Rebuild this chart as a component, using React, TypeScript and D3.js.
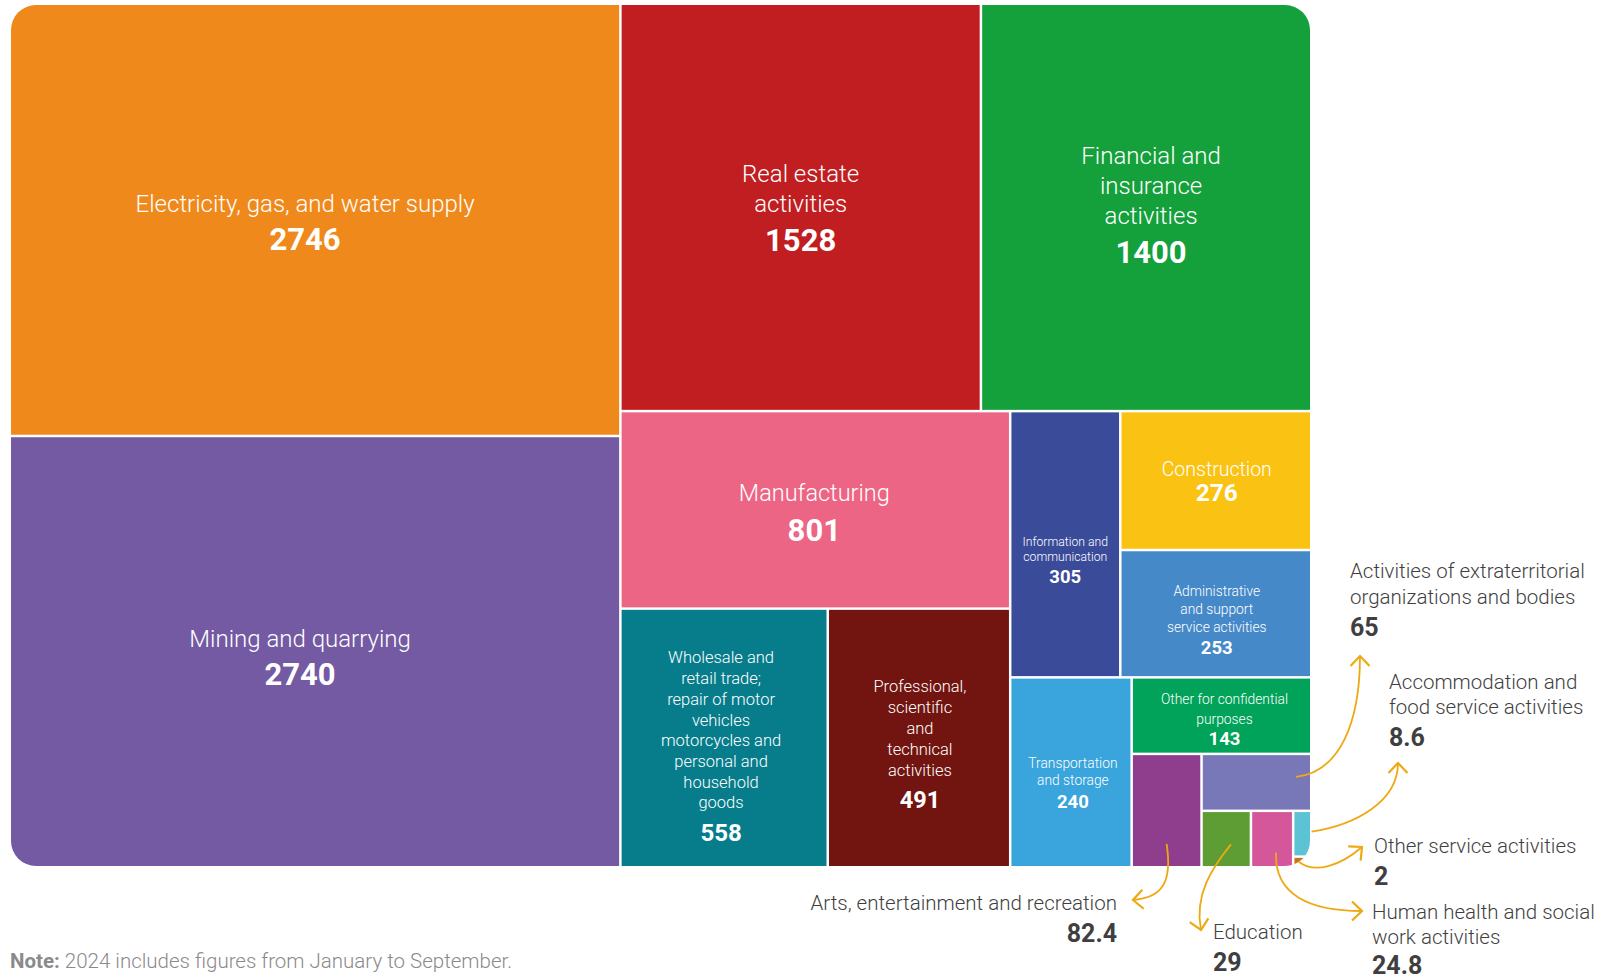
import React from "react";
import * as d3 from "d3";

// ---------- DATA ----------
const categories = [
  "Electricity, gas, and water supply",
  "Mining and quarrying",
  "Real estate activities",
  "Financial and insurance activities",
  "Manufacturing",
  "Wholesale and retail trade; repair of motor vehicles motorcycles and personal and household goods",
  "Professional, scientific and technical activities",
  "Information and communication",
  "Construction",
  "Administrative and support service activities",
  "Transportation and storage",
  "Other for confidential purposes",
  "Arts, entertainment and recreation",
  "Activities of extraterritorial organizations and bodies",
  "Education",
  "Human health and social work activities",
  "Accommodation and food service activities",
  "Other service activities",
];

const values = [2746, 2740, 1528, 1400, 801, 558, 491, 305, 276, 253, 240, 143, 82.4, 65, 29, 24.8, 8.6, 2];

const valueLabels = ["2746", "2740", "1528", "1400", "801", "558", "491", "305", "276", "253", "240", "143", "82.4", "65", "29", "24.8", "8.6", "2"];

const colors = [
  "#F0891B", "#7459A3", "#C01E21", "#14A03B", "#EC6584", "#077D8C",
  "#721510", "#3A4B9A", "#FAC313", "#4689C9", "#3AA4DC", "#00A359",
  "#8E3E8D", "#7878B8", "#5E9D33", "#D4579C", "#5BC3D4", "#C6761A",
];

// label lines (display text split into rows)
const labelLines: string[][] = [
  ["Electricity, gas, and water supply"],
  ["Mining and quarrying"],
  ["Real estate", "activities"],
  ["Financial and", "insurance", "activities"],
  ["Manufacturing"],
  ["Wholesale and", "retail trade;", "repair of motor", "vehicles", "motorcycles and", "personal and", "household", "goods"],
  ["Professional,", "scientific", "and", "technical", "activities"],
  ["Information and", "communication"],
  ["Construction"],
  ["Administrative", "and support", "service activities"],
  ["Transportation", "and storage"],
  ["Other for confidential", "purposes"],
  ["Arts, entertainment and recreation"],
  ["Activities of extraterritorial", "organizations and bodies"],
  ["Education"],
  ["Human health and social", "work activities"],
  ["Accommodation and", "food service activities"],
  ["Other service activities"],
];

const noteBold = "Note:";
const noteText = " 2024 includes figures from January to September.";

// ---------- STYLE / LAYOUT ----------
const W = 1608;
const H = 979;
const TM = { x: 11, y: 5, w: 1299, h: 861, r: 25 };
const FONT = "Roboto, 'Noto Sans', 'DejaVu Sans', sans-serif";
const ARROW = "#EEA912";
const DARK = "#3F3F42";

// inside-cell label styles: [labelSize, lineHeight, valueSize, valueGap, dy, dx]
const inside: Record<number, [number, number, number, number, number, number]> = {
  0: [24, 30, 31, 36, 2, -10],
  1: [24, 30, 31, 35, 5, -15],
  2: [24, 30, 31, 37, 0, 0],
  3: [24, 30, 31, 36, -3, 5],
  4: [23.5, 30, 31, 37, 2, -1],
  5: [16.5, 20.7, 24, 30, 7.5, -3],
  6: [16.5, 20.8, 23.5, 30, 5.5, 1],
  7: [12.2, 15.4, 18.5, 20, 15, 0],
  8: [19.5, 20, 24.5, 23.5, 0.5, 1],
  9: [13.8, 18, 18.5, 21.5, 6, 1],
  10: [13.8, 17.5, 18.5, 22, 10, 2],
  11: [13.8, 19.5, 18.5, 20, 3.5, 3],
};

// outside labels: anchor point, text anchor, line height, value gap
const outside: Record<number, { x: number; y: number; anchor: string; lh: number; gap: number }> = {
  12: { x: 1117, y: 903, anchor: "end", lh: 25, gap: 30 },
  13: { x: 1350, y: 571, anchor: "start", lh: 26, gap: 30 },
  14: { x: 1213, y: 932, anchor: "start", lh: 25, gap: 30 },
  15: { x: 1372, y: 912, anchor: "start", lh: 24.5, gap: 29 },
  16: { x: 1389, y: 682, anchor: "start", lh: 25, gap: 30 },
  17: { x: 1374, y: 846, anchor: "start", lh: 25, gap: 30 },
};

// arrows: start as fraction of the cell, controls and end in page space
const arrows: Record<number, { fx: number; fy: number; c1: [number, number]; c2: [number, number]; e: [number, number] }> = {
  13: { fx: 0.87, fy: 0.4, c1: [1340, 772], c2: [1360, 722], e: [1360, 656] },
  16: { fx: 1.1, fy: 0.45, c1: [1355, 825], c2: [1398, 802], e: [1398, 763] },
  17: { fx: 0.3, fy: 0.5, c1: [1315, 874], c2: [1340, 866], e: [1362, 847] },
  15: { fx: 0.6, fy: 0.75, c1: [1274, 895], c2: [1310, 911], e: [1362, 911] },
  14: { fx: 0.6, fy: 0.6, c1: [1212, 868], c2: [1194, 895], e: [1201, 930] },
  12: { fx: 0.5, fy: 0.8, c1: [1173, 885], c2: [1160, 898], e: [1133, 900] },
};

type Datum = { idx: number; name: string; value: number };

export default function App() {
  const data: Datum[] = categories.map((name, idx) => ({ idx, name, value: values[idx] }));
  const root = d3
    .hierarchy<any>({ children: data })
    .sum((d: any) => d.value ?? 0);
  d3.treemap<any>().tile(d3.treemapBinary).size([TM.w, TM.h]).paddingInner(2.5)(root);
  const leaves = root.leaves() as d3.HierarchyRectangularNode<any>[];
  const cellOf: Record<number, { x0: number; y0: number; x1: number; y1: number }> = {};
  leaves.forEach((l) => {
    cellOf[l.data.idx] = { x0: l.x0 + TM.x, y0: l.y0 + TM.y, x1: l.x1 + TM.x, y1: l.y1 + TM.y };
  });

  return (
    <svg width={W} height={H} style={{ position: "absolute", left: 0, top: 0, background: "#fff" }} fontFamily={FONT}>
      <defs>
        <clipPath id="tmclip">
          <rect x={TM.x} y={TM.y} width={TM.w} height={TM.h} rx={TM.r} ry={TM.r} />
        </clipPath>
        <marker id="chev" viewBox="-12 -12 14 24" markerWidth={14} markerHeight={24} refX={0} refY={0} orient="auto" markerUnits="userSpaceOnUse">
          <path d="M-10,-9.5 L0,0 L-10,9.5" fill="none" stroke={ARROW} strokeWidth={2.2} />
        </marker>
      </defs>
      <g clipPath="url(#tmclip)">
        {leaves.map((l) => {
          const c = cellOf[l.data.idx];
          return (
            <rect key={l.data.idx} x={c.x0} y={c.y0} width={c.x1 - c.x0} height={c.y1 - c.y0} fill={colors[l.data.idx]} />
          );
        })}
      </g>
      {/* inside labels */}
      {leaves
        .filter((l) => inside[l.data.idx])
        .map((l) => {
          const i = l.data.idx;
          const c = cellOf[i];
          const [ls, lh, vs, gap, dy, dx] = inside[i];
          const lines = labelLines[i];
          const cx = (c.x0 + c.x1) / 2 + dx;
          const cy = (c.y0 + c.y1) / 2 + dy;
          const span = (lines.length - 1) * lh + gap;
          const top = cy - span / 2;
          return (
            <g key={"t" + i} fill="#fff" textAnchor="middle">
              {lines.map((t, k) => (
                <text key={k} x={cx} y={top + k * lh} fontSize={ls} fontWeight={300} dominantBaseline="central">
                  {t}
                </text>
              ))}
              <text x={cx} y={top + (lines.length - 1) * lh + gap} fontSize={vs} fontWeight={700} dominantBaseline="central">
                {valueLabels[i]}
              </text>
            </g>
          );
        })}
      {/* arrows */}
      {Object.keys(arrows).map((k) => {
        const i = +k;
        const a = arrows[i];
        const c = cellOf[i];
        const sx = c.x0 + a.fx * (c.x1 - c.x0);
        const sy = c.y0 + a.fy * (c.y1 - c.y0);
        const p = d3.path();
        p.moveTo(sx, sy);
        p.bezierCurveTo(a.c1[0], a.c1[1], a.c2[0], a.c2[1], a.e[0], a.e[1]);
        return <path key={"a" + i} d={p.toString()} fill="none" stroke={ARROW} strokeWidth={1.8} markerEnd="url(#chev)" />;
      })}
      {/* outside labels */}
      {Object.keys(outside).map((k) => {
        const i = +k;
        const o = outside[i];
        const lines = labelLines[i];
        return (
          <g key={"o" + i} textAnchor={o.anchor as any}>
            {lines.map((t, j) => (
              <text key={j} x={o.x} y={o.y + j * o.lh} fontSize={20.5} fill={DARK} fontWeight={300} dominantBaseline="central">
                {t}
              </text>
            ))}
            <text x={o.x} y={o.y + (lines.length - 1) * o.lh + o.gap} fontSize={25} fontWeight={700} fill={DARK} dominantBaseline="central">
              {valueLabels[i]}
            </text>
          </g>
        );
      })}
      <text x={10} y={961} fontSize={20.5} fill="#8A8A8C" dominantBaseline="central">
        <tspan fontWeight={700}>{noteBold}</tspan>
        <tspan fontWeight={300}>{noteText}</tspan>
      </text>
    </svg>
  );
}
